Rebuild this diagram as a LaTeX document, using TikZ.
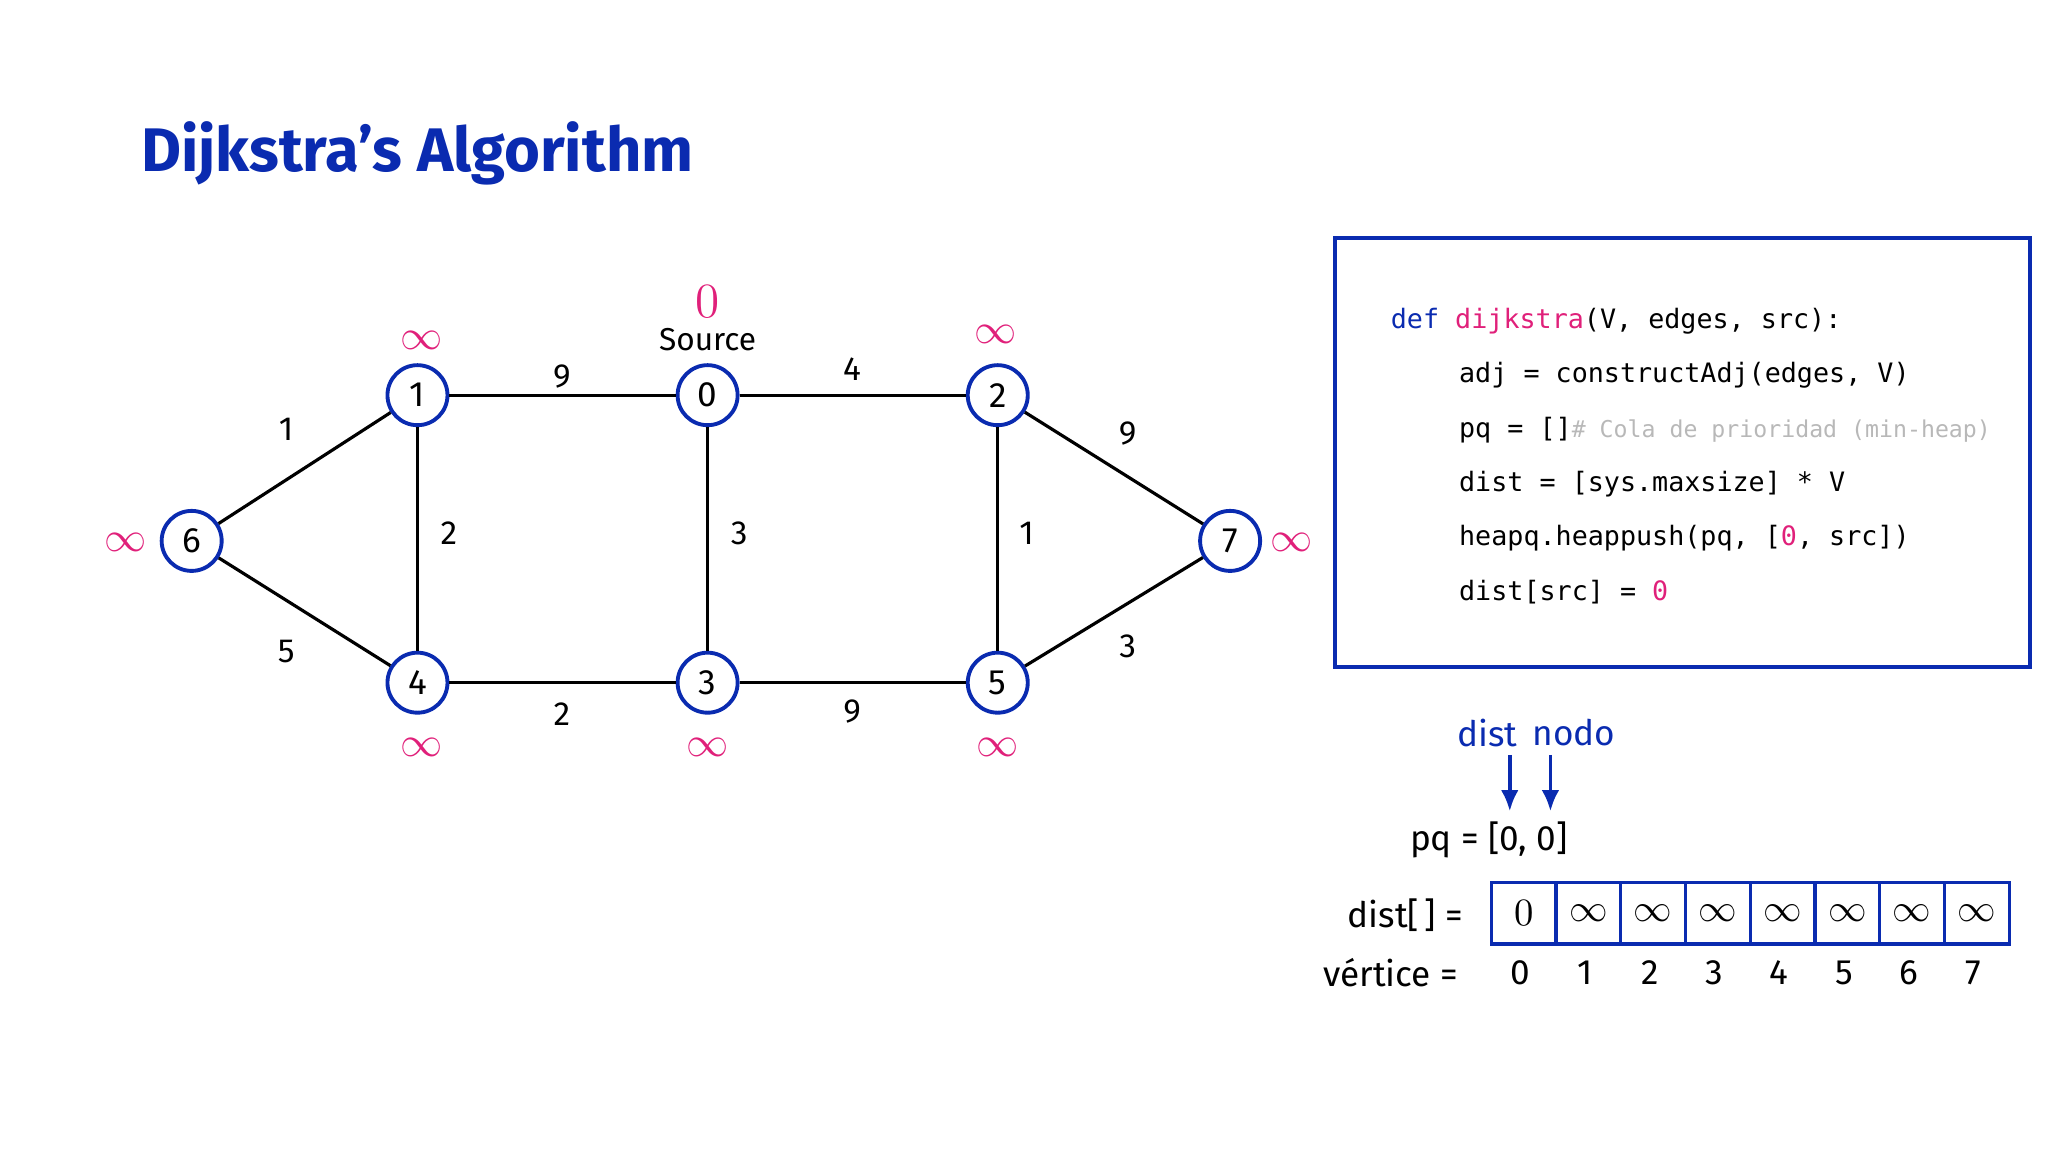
\documentclass[tikz,border=0pt]{standalone}
\usepackage{fontspec}
\setmainfont{Fira Sans}
\newfontfamily\codefont{DejaVu Sans Mono}
\newfontfamily\serifnum{Latin Modern Roman}
\usetikzlibrary{arrows.meta}
\definecolor{navy}{HTML}{0A2BB0}
\definecolor{pinkc}{HTML}{E0207A}
\definecolor{cgray}{HTML}{B8B8B8}
\begin{document}
\begin{tikzpicture}[x=0.013128cm,y=-0.013128cm,
  vtx/.style={circle,draw=navy,line width=1.1pt,fill=white,minimum size=0.6cm,inner sep=0pt,font=\fontsize{10}{12}\selectfont},
  edge/.style={line width=0.9pt,black},
  wlab/.style={font=\fontsize{9.5}{11}\selectfont},
  inf/.style={text=pinkc,font=\fontsize{13}{13}\selectfont},
  code/.style={anchor=west,font=\codefont\fontsize{7.6}{10}\selectfont},
  cell/.style={draw=navy,line width=0.9pt,minimum width=49.3*0.013128cm,minimum height=47*0.013128cm,inner sep=0pt,font=\fontsize{11}{11}\selectfont},
  lab/.style={font=\fontsize{10}{12}\selectfont}]
\useasboundingbox (0,0) rectangle (1560,877.5);
\node[anchor=west,text=navy,font=\bfseries\fontsize{17.5}{21}\selectfont] (title) at (98,117) {Dijkstra\symbol{39}s Algorithm};
% vertices
\node[vtx] (v0) at (539,301) {0};
\node[vtx] (v1) at (318,301) {1};
\node[vtx] (v2) at (760,301) {2};
\node[vtx] (v6) at (146,412) {6};
\node[vtx] (v7) at (937,412) {7};
\node[vtx] (v4) at (318,520) {4};
\node[vtx] (v3) at (539,520) {3};
\node[vtx] (v5) at (760,520) {5};
\draw[edge] (v1)--(v0); \draw[edge] (v0)--(v2);
\draw[edge] (v6)--(v1); \draw[edge] (v6)--(v4);
\draw[edge] (v1)--(v4); \draw[edge] (v0)--(v3);
\draw[edge] (v2)--(v5); \draw[edge] (v2)--(v7);
\draw[edge] (v5)--(v7); \draw[edge] (v4)--(v3);
\draw[edge] (v3)--(v5);
% weights
\node[wlab] (w10) at (428,287) {9};
\node[wlab] (w02) at (649,281) {4};
\node[wlab] (w61) at (218,327) {1};
\node[wlab] (w64) at (218,496) {5};
\node[wlab] (w14) at (342,406) {2};
\node[wlab] (w03) at (563,406) {3};
\node[wlab] (w25) at (782,406) {1};
\node[wlab] (w27) at (859,330) {9};
\node[wlab] (w57) at (859,492) {3};
\node[wlab] (w43) at (428,544) {2};
\node[wlab] (w35) at (649,542) {9};
% distances
\node[text=pinkc,font=\serifnum\fontsize{14}{14}\selectfont] (d0) at (539,230) {0};
\node[font=\fontsize{9}{11}\selectfont] (src) at (539,259) {Source};
\node[inf] (d1) at (321,259) {$\infty$};
\node[inf] (d2) at (758,255) {$\infty$};
\node[inf] (d6) at (96,413) {$\infty$};
\node[inf] (d7) at (984,413) {$\infty$};
\node[inf] (d4) at (321,569) {$\infty$};
\node[inf] (d3) at (539,569) {$\infty$};
\node[inf] (d5) at (760,569) {$\infty$};
% code box
\draw[navy,line width=1.2pt] (1017,181) rectangle (1546,508);
\node[code] (c1) at (1050,245) {\textcolor{navy}{def} \textcolor{pinkc}{dijkstra}(V, edges, src):};
\node[code] (c2) at (1102,286) {adj = constructAdj(edges, V)};
\node[code] (c3) at (1102,328) {pq = []\textcolor{cgray}{\fontsize{6.6}{9}\selectfont\# Cola de prioridad (min-heap)}};
\node[code] (c4) at (1102,369) {dist = [sys.maxsize] * V};
\node[code] (c5) at (1102,410) {heapq.heappush(pq, [\textcolor{pinkc}{0}, src])};
\node[code] (c6) at (1102,451) {dist[src] = \textcolor{pinkc}{0}};
% pq
\node[lab,text=navy] (dl) at (1133,558) {dist};
\node[lab,text=navy] (nl) at (1199,558) {nodo};
\coordinate (a1) at (1150,618); \coordinate (a2) at (1181,618);
\draw[navy,line width=1.1pt,-{Latex[length=6pt,width=5pt]}] (1150,575)--(a1);
\draw[navy,line width=1.1pt,-{Latex[length=6pt,width=5pt]}] (1181,575)--(a2);
\node[lab] (pq) at (1134,640) {pq = [0, 0]};
\node[lab,anchor=east] (distl) at (1124,697) {dist[\,] =};
\node[lab,anchor=east] (vertl) at (1120,741) {vértice =};
\foreach \i/\t in {0/{\serifnum 0},1/$\infty$,2/$\infty$,3/$\infty$,4/$\infty$,5/$\infty$,6/$\infty$,7/$\infty$}{
  \node[cell] (cell\i) at ({1160.6+49.3*\i},695.5) {\t};
  \node[lab] (vx\i) at ({1158+49.3*\i},741) {\i};
}
\end{tikzpicture}
\end{document}
